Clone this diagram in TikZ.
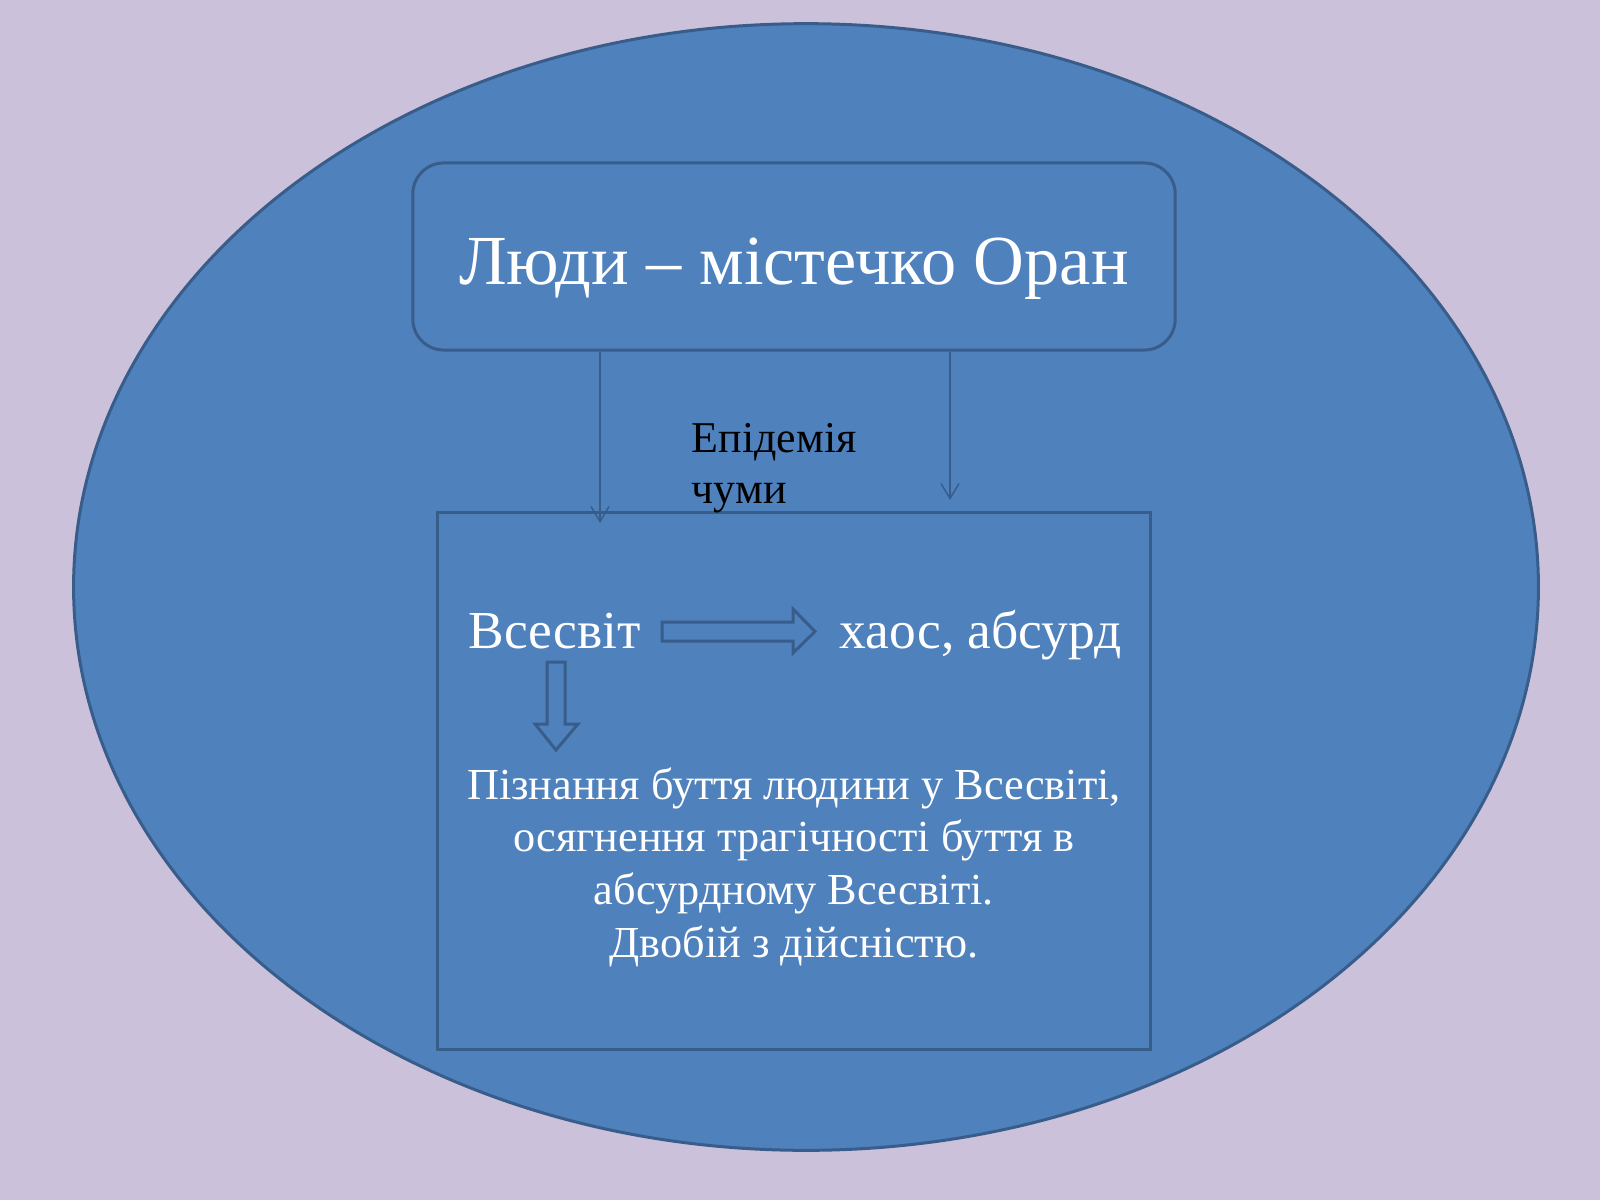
\documentclass[tikz,border=0pt]{standalone}
\usepackage{fontspec}
\setmainfont{Liberation Serif}
\usetikzlibrary{arrows.meta}
\definecolor{lavanda}{HTML}{CCC1DA}
\definecolor{azul}{HTML}{4F81BD}
\definecolor{borda}{HTML}{385D8A}

\begin{document}
\begin{tikzpicture}[x=0.01cm, y=-0.01cm,
    titulo/.style={draw=borda, line width=0.3mm, rounded corners=3.1mm, minimum width=7.62cm, minimum height=1.87cm, text=white, text height=5.5mm, text depth=0pt, font=\fontsize{20}{24}\selectfont},
    caixa/.style={draw=borda, line width=0.3mm, minimum width=7.12cm, minimum height=5.36cm},
    seta/.style={-{Straight Barb[length=1.5mm,width=1.8mm]}, draw=borda, line width=0.15mm},
    bloco/.style={draw=borda, line width=0.3mm, line join=miter}]

    % Fundo e elipse
    \fill[lavanda] (0,0) rectangle (1600,1200);
    \useasboundingbox (0,0) rectangle (1600,1200);
    \draw[borda, line width=0.3mm, fill=azul] (806,587) ellipse [x radius=7.32cm, y radius=5.63cm];

    % Nodos principais
    \node[titulo] (oran) at (794,256.5) {Люди – містечко Оран};
    \node[caixa] (universo) at (794,781) {};

    % Textos
    \node[anchor=base west, inner sep=0pt, align=left, font=\fontsize{12.5}{14.5}\selectfont] (peste) at (691,503) {Епідемія\\чуми};
    \node[anchor=base west, inner sep=0pt, text=white, font=\fontsize{15.2}{18}\selectfont] (vsesvit) at (468,648) {Всесвіт};
    \node[anchor=base west, inner sep=0pt, text=white, font=\fontsize{15.2}{18}\selectfont] (khaos) at (839,648) {хаос, абсурд};
    \node[align=center, text=white, font=\fontsize{12.6}{15}\selectfont] (sentido) at (794,867) {Пізнання буття людини у Всесвіті,\\осягнення трагічності буття в\\абсурдному Всесвіті.\\Двобій з дійсністю.};

    % Setas finas
    \coordinate (fimE) at (600,523);
    \coordinate (fimD) at (950,500);
    \draw[seta] (oran.south -| fimE) -- (fimE);
    \draw[seta] (oran.south -| fimD) -- (fimD);

    % Setas largas
    \draw[bloco] (662,622) -- (793,622) -- (793,609) -- (815,631.5) -- (793,653) -- (793,641) -- (662,641) -- cycle;
    \draw[bloco] (547,662) -- (565,662) -- (565,724) -- (578,724) -- (556,750) -- (535,724) -- (547,724) -- cycle;

\end{tikzpicture}
\end{document}
